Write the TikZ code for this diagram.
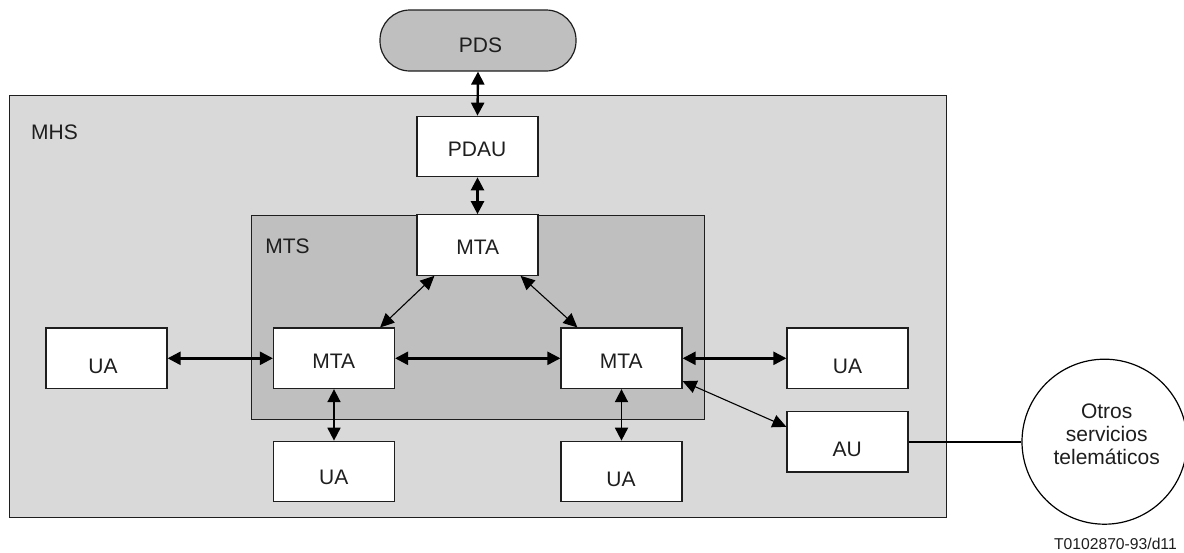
\documentclass[tikz,border=0pt]{standalone}
\usepackage{fontspec}
\setmainfont{Liberation Sans}
\usetikzlibrary{arrows.meta,calc}
\definecolor{mhsgray}{RGB}{217,217,217}
\definecolor{mtsgray}{RGB}{191,191,191}
\definecolor{ink}{RGB}{30,30,30}
\tikzset{
  container/.style={draw=ink,line width=1.2pt,rectangle,inner sep=0pt,anchor=north west},
  unitbox/.style={draw=ink,fill=white,line width=1.2pt,rectangle,inner sep=0pt,minimum width=121pt,minimum height=60.5pt},
  txt/.style={inner sep=0pt,font=\fontsize{21}{23}\selectfont,text=ink,anchor=base},
  heavy/.style={{Triangle[length=13pt,width=13pt]}-{Triangle[length=13pt,width=13pt]},line width=2.4pt,black},
  medium/.style={{Triangle[length=13pt,width=13pt]}-{Triangle[length=13pt,width=13pt]},line width=1.8pt,black},
  light/.style={{Triangle[length=14pt,width=13pt]}-{Triangle[length=14pt,width=13pt]},line width=1.1pt,black}
}
\begin{document}
\begin{tikzpicture}[x=1pt,y=-1pt]
\useasboundingbox (0,0) rectangle (1184,552);
\node[container,fill=mhsgray,minimum width=937.5pt,minimum height=422pt] (mhs) at (8.5,95) {};
\node[container,fill=mtsgray,minimum width=453pt,minimum height=204pt] (mts) at (251,215) {};
\node[draw=ink,fill=mtsgray,line width=1.2pt,rounded corners=30pt,minimum width=196pt,minimum height=61pt,inner sep=0pt] (pds) at (478,40.5) {};
\node[unitbox] (pdau) at (477.5,146.5) {};
\node[unitbox] (mtat) at (477.5,245) {};
\node[unitbox] (mtal) at (334,358.3) {};
\node[unitbox] (mtar) at (621.5,358.3) {};
\node[unitbox] (ual) at (106.5,358.3) {};
\node[unitbox] (uar) at (847.5,358.3) {};
\node[unitbox] (uab) at (334,471.5) {};
\node[unitbox] (uac) at (621.5,471.5) {};
\node[unitbox] (au) at (847.5,441.7) {};
\node[draw=black,fill=white,line width=1.2pt,circle,minimum size=165pt,inner sep=0pt] (serv) at (1104.5,441.7) {};
\node[txt] (tpds) at (480.5,52.7) {PDS};
\node[txt] (tpdau) at (477,156) {PDAU};
\node[txt] (tmtat) at (477.7,254.3) {MTA};
\node[txt] (tmtal) at (333.8,368.3) {MTA};
\node[txt] (tmtar) at (621.3,368.3) {MTA};
\node[txt] (tual) at (103,373.3) {UA};
\node[txt] (tuar) at (847.5,373.3) {UA};
\node[txt] (tuab) at (333.7,484) {UA};
\node[txt] (tuac) at (621,486.7) {UA};
\node[txt] (tau) at (847.2,456) {AU};
\node[txt] (tmhs) at (54.5,139.3) {MHS};
\node[txt] (tmts) at (287.5,253.3) {MTS};
\node[txt] (totros) at (1106.7,418.7) {Otros};
\node[txt] (tserv) at (1106.7,441.7) {servicios};
\node[txt] (ttele) at (1106.7,464.7) {telemáticos};
\node[inner sep=0pt,font=\fontsize{15.7}{18}\selectfont,text=ink,anchor=base east] (fig) at (1177,549.5) {T0102870-93/d11};
\coordinate (lb) at ($(mtat.south west)+(18,0)$);
\coordinate (lt) at ($(mtal.north east)-(15,0)$);
\coordinate (rb) at ($(mtat.south east)-(18,0)$);
\coordinate (rt) at ($(mtar.north west)+(17,0)$);
\coordinate (mr) at ($(mtar.south east)-(0,8)$);
\coordinate (ar) at ($(au.north west)+(0,16)$);
\draw[heavy] (pds.south) -- (pdau.north);
\draw[heavy] (pdau.south) -- (mtat.north);
\draw[heavy] (ual.east) -- (mtal.west);
\draw[heavy] (mtal.east) -- (mtar.west);
\draw[heavy] (mtar.east) -- (uar.west);
\draw[medium] (mtal.south) -- (uab.north);
\draw[medium] (mtar.south) -- (uac.north);
\draw[light] (lb) -- (lt);
\draw[light] (rb) -- (rt);
\draw[light] (mr) -- (ar);
\draw[line width=2pt,black] (au.east) -- (serv.west);
\end{tikzpicture}
\end{document}
